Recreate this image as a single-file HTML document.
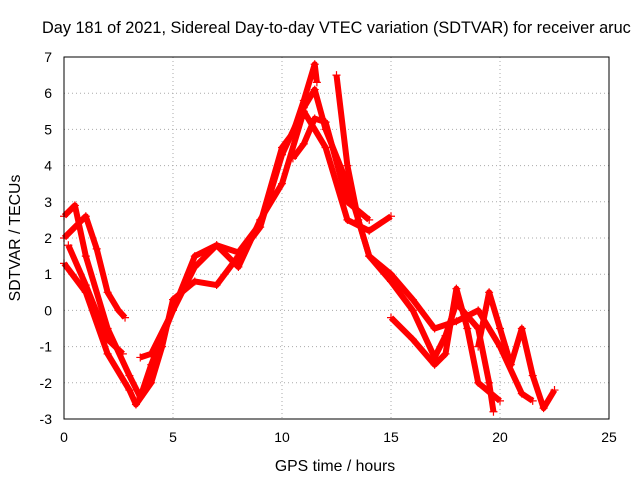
<!DOCTYPE html>
<html><head><meta charset="utf-8"><style>
body{margin:0;background:#fff}
svg{display:block;font-family:"Liberation Sans",sans-serif}
</style></head><body>
<svg id="chart" width="640" height="480">
<text x="42" y="33" font-size="16.3">Day 181 of 2021, Sidereal Day-to-day VTEC variation (SDTVAR) for receiver aruc</text>
<text x="335" y="471" font-size="15.8" text-anchor="middle">GPS time / hours</text>
<text transform="translate(20,238) rotate(-90)" font-size="15.8" text-anchor="middle">SDTVAR / TECUs</text>
<g id="grid"></g><g id="ticks"></g><g id="marks"></g>
<rect x="64" y="57" width="545" height="362" fill="none" stroke="#000"/>
</svg>
<script>
const xTicks=[0,5,10,15,20,25];
const yTicks=[-3,-2,-1,0,1,2,3,4,5,6,7];
const track1=[[0,2.6],[0.5,2.9],[1,1.5],[2,-0.5],[3,-1.8],[3.5,-2.4],[4,-1.5],[5,0],[6,1.5],[7,1.8],[8,1.2],[9,2.5],[10,3.5],[11,5.5],[12,4.5],[13,2.5],[14,2.2],[15,2.6]];
const track2=[[0,1.3],[1,0.5],[2,-1.2],[3,-2.2],[3.3,-2.6],[4,-2],[4.5,-1],[5,0.3],[6,0.8],[7,0.7],[8,1.5],[9,2.3],[10,4.3],[11,5.6],[11.5,6.1],[12,5],[13,3.5],[14,1.5],[15,0.8],[16,0],[17,-1.3],[17.5,-0.7],[18,0.2],[19,-0.5],[19.5,-2],[19.7,-2.8]];
const track3=[[0,2],[1,2.6],[1.5,1.7],[2,0.5],[2.5,0],[2.8,-0.2]];
const track4=[[0.2,1.8],[1,0.7],[2,-0.8],[2.7,-1.2]];
const track5=[[3.5,-1.3],[4,-1.2],[5,0],[6,1.2],[7,1.8],[8,1.6],[9,2.4],[10,4.5],[10.5,4.9],[11,5.8],[11.5,6.8],[11.6,6.3]];
const track6=[[12.5,6.5],[13,4],[13.5,2.5],[14,1.5],[15,1],[16,0.3],[17,-0.5],[18,-0.3],[19,0],[20,-1],[21,-2.3],[21.5,-2.5]];
const track7=[[15,-0.2],[16,-0.8],[17,-1.5],[17.5,-1.2],[18,0.6],[18.5,-0.5],[19,-2],[20,-2.5]];
const track8=[[19,-1],[19.5,0.5],[20,-0.5],[20.5,-1.5],[21,-0.5],[21.5,-1.8],[22,-2.7],[22.5,-2.2]];
const track9=[[10.5,4.2],[11,4.6],[11.5,5.3],[12,5.2],[13,3],[14,2.5]];
const tracks=[track1,track2,track3,track4,track5,track6,track7,track8,track9];
const NS="http://www.w3.org/2000/svg";
const X=v=>64+v*545/25, Y=v=>419-(v+3)*362/10;
const grid=document.getElementById('grid'),ticks=document.getElementById('ticks'),marks=document.getElementById('marks');
function mk(t,a,p){const e=document.createElementNS(NS,t);for(const k in a)e.setAttribute(k,a[k]);p.appendChild(e);return e;}
xTicks.forEach(t=>{
 const g=mk('line',{x1:X(t),x2:X(t),y1:57,y2:419,stroke:'#aaa','stroke-dasharray':'1,3'},grid);
 
 
 const l=mk('text',{x:X(t),y:442,'font-size':14,'text-anchor':'middle'},ticks);l.textContent=t;
 
 
});
yTicks.forEach(t=>{
 const g=mk('line',{x1:64,x2:609,y1:Y(t),y2:Y(t),stroke:'#aaa','stroke-dasharray':'1,3'},grid);
 
 
 const l=mk('text',{x:52,y:Y(t)+5,'font-size':14,'text-anchor':'end'},ticks);l.textContent=t;
 
 
});
tracks.forEach((tr,i)=>{
 const pl=mk('polyline',{points:tr.map(p=>X(p[0])+','+Y(p[1])).join(' '),fill:'none',stroke:'#f00','stroke-width':6,'stroke-linejoin':'round'},marks);
 
 
 tr.forEach(p=>{
  const m=mk('path',{d:`M${X(p[0])-4},${Y(p[1])}h8M${X(p[0])},${Y(p[1])-4}v8`,stroke:'#f00','stroke-width':1.2},marks);
  
  
 });
});
</script>
</body></html>
